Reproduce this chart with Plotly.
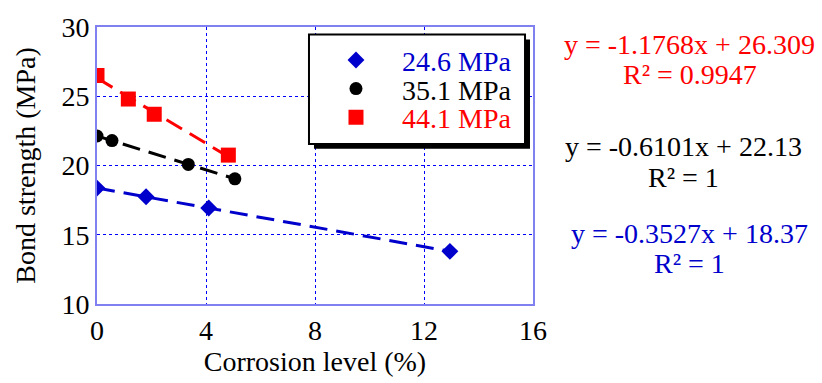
import plotly.graph_objects as go

FONT = "Liberation Serif, Times New Roman, Tinos, DejaVu Serif, serif"

series_names = ["24.6 MPa", "35.1 MPa", "44.1 MPa"]
colors = ["#0000cc", "#000000", "#ff0000"]
symbols = ["diamond", "circle", "square"]
marker_sizes = [13, 13, 15]

x_246 = [0.0, 1.8, 4.1, 12.95]
y_246 = [18.37, 17.74, 16.93, 13.80]
x_351 = [0.0, 0.55, 3.35, 5.06]
y_351 = [22.13, 21.80, 20.08, 19.04]
x_441 = [0.0, 1.15, 2.10, 4.82]
y_441 = [26.50, 24.80, 23.70, 20.75]

slopes = [-0.3527, -0.6101, -1.1768]
intercepts = [18.37, 22.13, 26.309]
eq_texts = ["y = -0.3527x + 18.37", "y = -0.6101x + 22.13", "y = -1.1768x + 26.309"]
r2_texts = ["R² = 1", "R² = 1", "R² = 0.9947"]

xs = [x_246, x_351, x_441]
ys = [y_246, y_351, y_441]
legend_ids = ["legend", "legend2", "legend3"]
legend_y = [0.8797, 0.7766, 0.6735]

fig = go.Figure()

# trendlines
for i in range(3):
    x0, x1 = min(xs[i]), max(xs[i])
    fig.add_trace(go.Scatter(
        x=[x0, x1], y=[slopes[i] * x0 + intercepts[i], slopes[i] * x1 + intercepts[i]],
        mode="lines", line=dict(color=colors[i], width=3, dash="18px,9px"),
        showlegend=False, hoverinfo="skip"))

for i in range(3):
    fig.add_trace(go.Scatter(
        x=xs[i], y=ys[i], mode="markers", legend=legend_ids[i],
        name=f'<span style="color:{colors[i]}">{series_names[i]}</span>',
        marker=dict(symbol=symbols[i], size=marker_sizes[i], color=colors[i])))

axis_common = dict(
    showline=True, mirror=True, linecolor="#8080f0", linewidth=2,
    showgrid=True, gridcolor="#0000ff", gridwidth=1, griddash="dot",
    zeroline=False, ticks="",
    tickfont=dict(family=FONT, size=28, color="black"),
)

fig.update_xaxes(range=[0, 16], tickvals=[0, 4, 8, 12, 16],
                 title=dict(text="Corrosion level (%)", font=dict(family=FONT, size=28, color="black"), standoff=6),
                 **axis_common)
fig.update_yaxes(range=[10, 30], tickvals=[10, 15, 20, 25, 30],
                 title=dict(text="Bond strength (MPa)", font=dict(family=FONT, size=28, color="black"), standoff=18),
                 **axis_common)

# legend frame: shadow + box
fig.add_shape(type="rect", xref="paper", yref="paper",
              x0=0.4977, x1=0.9931, y0=0.5601, y1=0.9553,
              fillcolor="black", line=dict(width=0), layer="above")
fig.add_shape(type="rect", xref="paper", yref="paper",
              x0=0.4862, x1=0.9817, y0=0.5773, y1=0.9725,
              fillcolor="white", line=dict(color="black", width=2), layer="above")

legend_common = dict(xanchor="left", yanchor="middle", bgcolor="rgba(0,0,0,0)",
                     borderwidth=0, font=dict(family=FONT, size=28), itemwidth=82)
fig.update_layout(
    width=822, height=383,
    margin=dict(l=97, r=289, t=22, b=70),
    plot_bgcolor="white", paper_bgcolor="white",
    font=dict(family=FONT, size=28, color="black"),
    legend=dict(x=0.4885, y=legend_y[0], **legend_common),
    legend2=dict(x=0.4885, y=legend_y[1], **legend_common),
    legend3=dict(x=0.4885, y=legend_y[2], **legend_common),
)

ann_x = [1.358, 1.346, 1.36]
eq_y = [0.256, 0.570, 0.938]
r2_y = [0.148, 0.457, 0.828]
for i in range(3):
    fig.add_annotation(x=ann_x[i], y=eq_y[i], xref="paper", yref="paper",
                       text=eq_texts[i], showarrow=False, xanchor="center", yanchor="middle",
                       font=dict(family=FONT, size=28, color=colors[i]))
    fig.add_annotation(x=ann_x[i], y=r2_y[i], xref="paper", yref="paper",
                       text=r2_texts[i], showarrow=False, xanchor="center", yanchor="middle",
                       font=dict(family=FONT, size=28, color=colors[i]))

fig.write_html("out.html")
